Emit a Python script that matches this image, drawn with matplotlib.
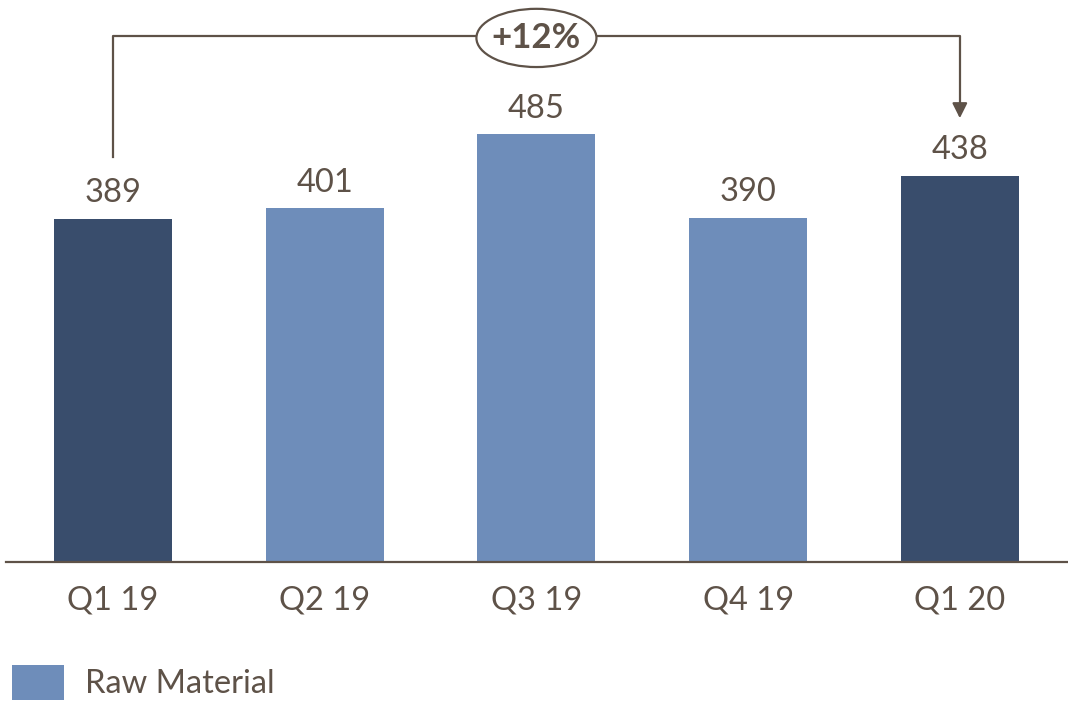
import matplotlib
matplotlib.use("Agg")
import matplotlib.pyplot as plt
from matplotlib.patches import Ellipse, Patch

categories = ["Q1 19", "Q2 19", "Q3 19", "Q4 19", "Q1 20"]
values = [389, 401, 485, 390, 438]
highlight = [True, False, False, False, True]
growth_label = "+12%"
legend_label = "Raw Material"

DARK = "#394D6C"
LIGHT = "#6E8DBA"
TXT = "#5E5248"

plt.rcParams['font.family'] = ['Lato', 'DejaVu Sans']

fig = plt.figure(figsize=(10.68, 7.03), dpi=100)
ax = fig.add_axes([0, 0.2006, 1, 0.7994])
x = list(range(len(categories)))
colors = [DARK if h else LIGHT for h in highlight]
ax.bar(x, values, width=0.557, color=colors, zorder=2)
ax.set_xlim(-0.534, 4.511)
ax.set_ylim(0, 637)
for xi, v in zip(x, values):
    ax.text(xi, v + 12, f"{v}", ha="center", va="bottom", fontsize=23.5, color=TXT)

ax.axhline(0, xmin=0.006, xmax=1, color=TXT, lw=1.6, zorder=3, clip_on=False)
for s in ax.spines.values():
    s.set_visible(False)
ax.set_yticks([])
ax.set_xticks(x)
ax.set_xticklabels(categories, fontsize=23.5, color=TXT)
ax.tick_params(axis="x", length=0, pad=17)

# growth bracket
top = 596
ax.plot([0, 0, 4, 4], [values[0] + 70, top, top, values[-1] + 80], color=TXT, lw=1.6, zorder=3,
        clip_on=False)
ax.annotate("", xy=(4, values[-1] + 65), xytext=(4, values[-1] + 82),
            arrowprops=dict(arrowstyle="-|>,head_length=0.9,head_width=0.45", color=TXT, lw=1.6,
                            shrinkA=0, shrinkB=0), zorder=4)
ell = Ellipse((2, top - 2), width=0.567, height=66, facecolor="white", edgecolor=TXT, lw=1.6,
              zorder=5, clip_on=False)
ax.add_patch(ell)
ax.text(2, top - 2, growth_label, ha="center", va="center", fontsize=25, fontweight="bold",
        color=TXT, zorder=6)

leg = fig.legend(handles=[Patch(facecolor=LIGHT, label=legend_label)], loc="lower left",
                 bbox_to_anchor=(0.011, 0.004), frameon=False, fontsize=23.5, handlelength=1.6,
                 handleheight=1.3, handletextpad=0.65, borderaxespad=0, borderpad=0)
for t in leg.get_texts():
    t.set_color(TXT)

fig.savefig("out.png", dpi=100)
